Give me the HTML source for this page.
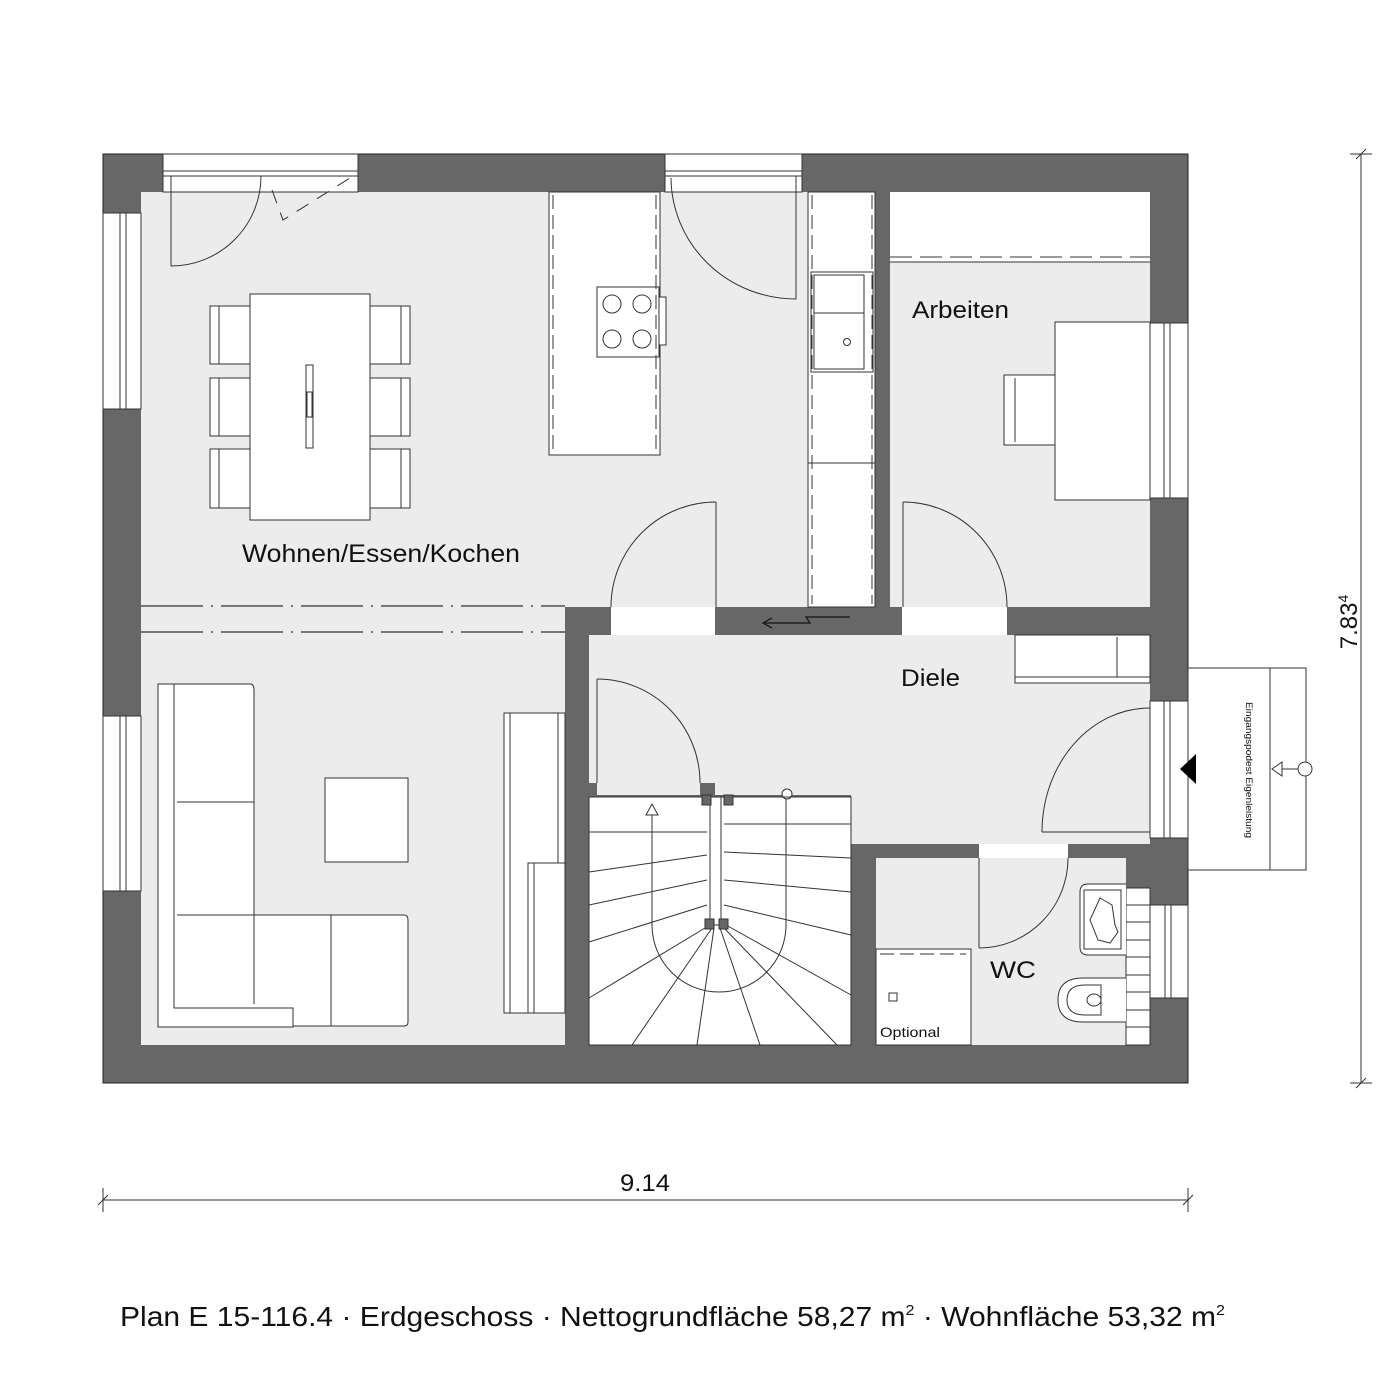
<!DOCTYPE html>
<html><head><meta charset="utf-8"><style>
html,body{margin:0;padding:0;background:#fff;}
svg{display:block;}
text{font-family:"Liberation Sans",Arial,sans-serif;fill:#111;}
</style></head><body>
<svg width="1400" height="1400" viewBox="0 0 1400 1400" xmlns="http://www.w3.org/2000/svg">
<rect x="103" y="154" width="1085" height="929" fill="#676767" stroke="#222" stroke-width="1"/>
<g fill="#ececec">
<rect x="141" y="192" width="424" height="853"/>
<rect x="565" y="192" width="310" height="415"/>
<rect x="890" y="192" width="260" height="415"/>
<rect x="589" y="635" width="561" height="160"/>
<rect x="851" y="635" width="299" height="209"/>
<rect x="876" y="858" width="250" height="187"/>
</g>
<g fill="#676767">
<rect x="565" y="607" width="24" height="438"/>
<rect x="565" y="607" width="46" height="28"/>
<rect x="715" y="607" width="187" height="28"/>
<rect x="1007" y="607" width="143" height="28"/>
<rect x="875" y="192" width="15" height="415"/>
<rect x="851" y="844" width="25" height="201"/>
<rect x="851" y="844" width="128" height="14"/>
<rect x="1068" y="844" width="82" height="14"/>
<rect x="1126" y="858" width="24" height="30"/>
<rect x="589" y="783" width="8" height="14"/>
<rect x="700" y="783" width="15" height="14"/>
</g>
<g fill="#fff" stroke="#333" stroke-width="1">
<rect x="163" y="154" width="195" height="38"/>
<rect x="665" y="154" width="137" height="38"/>
<rect x="103" y="213" width="38" height="196"/>
<rect x="103" y="716" width="38" height="175"/>
<rect x="1150" y="323" width="38" height="175"/>
<rect x="1150" y="701" width="38" height="137"/>
<rect x="1150" y="905" width="38" height="93"/>
</g>
<g fill="#fff">
<rect x="611" y="607" width="104" height="28"/>
<rect x="902" y="607" width="105" height="28"/>
<rect x="979" y="844" width="89" height="14"/>
</g>
<g stroke="#333" stroke-width="1" fill="none">
<line x1="163" y1="171" x2="358" y2="171"/><line x1="163" y1="176" x2="358" y2="176"/>
<line x1="665" y1="171" x2="802" y2="171"/><line x1="665" y1="176" x2="802" y2="176"/>
<line x1="120" y1="213" x2="120" y2="409"/><line x1="126" y1="213" x2="126" y2="409"/>
<line x1="120" y1="716" x2="120" y2="891"/><line x1="126" y1="716" x2="126" y2="891"/>
<line x1="1164" y1="323" x2="1164" y2="498"/><line x1="1170" y1="323" x2="1170" y2="498"/>
<line x1="1164" y1="701" x2="1164" y2="838"/><line x1="1170" y1="701" x2="1170" y2="838"/>
<line x1="1165" y1="905" x2="1165" y2="998"/><line x1="1171" y1="905" x2="1171" y2="998"/>
</g>
<g stroke="#333" stroke-width="1.2" stroke-dasharray="62,8,2,8">
<line x1="141" y1="606" x2="565" y2="606"/>
<line x1="141" y1="632" x2="565" y2="632"/>
</g>
<g stroke="#333" stroke-width="1" fill="none">
<line x1="171" y1="176" x2="171" y2="266"/><path d="M171 266 A90 90 0 0 0 261 176"/>
<path d="M272 190 L283 220 L350 178" stroke-dasharray="14,10"/>
<line x1="796" y1="176" x2="796" y2="299"/><path d="M671 178 A125 122 0 0 0 796 299"/>
<line x1="716" y1="502" x2="716" y2="607"/><path d="M716 502 A105 105 0 0 0 611 607"/>
<line x1="903" y1="502" x2="903" y2="607"/><path d="M903 502 A104 105 0 0 1 1007 607"/>
<line x1="597" y1="679" x2="597" y2="783"/><path d="M597 679 A103 104 0 0 1 700 783"/>
<line x1="979" y1="858" x2="979" y2="948"/><path d="M979 948 A89 90 0 0 0 1068 858"/>
<line x1="1042" y1="832" x2="1150" y2="832"/><path d="M1042 832 A108 124 0 0 1 1150 708"/>
</g>
<g stroke="#111" stroke-width="1.2" fill="none">
<path d="M850 617 L806 617 L810 623 L765 623"/><path d="M772 618 L763 623 L772 628"/>
</g>
<g fill="#fff" stroke="#333" stroke-width="1">
<rect x="210" y="306" width="40" height="58"/><rect x="210" y="378" width="40" height="58"/><rect x="210" y="449" width="40" height="59"/>
<rect x="370" y="306" width="40" height="58"/><rect x="370" y="378" width="40" height="58"/><rect x="370" y="449" width="40" height="59"/>
<rect x="250" y="294" width="120" height="226"/>
<rect x="306" y="365" width="7" height="83"/>
<rect x="307" y="392" width="5" height="25"/>
</g>
<g stroke="#333" fill="none"><line x1="219" y1="306" x2="219" y2="364"/><line x1="219" y1="378" x2="219" y2="436"/><line x1="219" y1="449" x2="219" y2="508"/>
<line x1="401" y1="306" x2="401" y2="364"/><line x1="401" y1="378" x2="401" y2="436"/><line x1="401" y1="449" x2="401" y2="508"/></g>
<g fill="#fff" stroke="#333" stroke-width="1">
<rect x="549" y="192" width="111" height="263"/>
<rect x="597" y="287" width="62" height="70"/>
<rect x="659" y="297" width="7" height="48"/>
<circle cx="612" cy="304" r="9"/><circle cx="642" cy="304" r="9"/><circle cx="612" cy="339" r="9"/><circle cx="642" cy="339" r="9"/>
<rect x="808" y="192" width="67" height="415"/>
<rect x="811" y="272" width="62" height="100"/>
<rect x="814" y="275" width="50" height="94"/>
<line x1="814" y1="313" x2="864" y2="313"/>
<circle cx="847" cy="342" r="3.5"/>
<line x1="808" y1="463" x2="875" y2="463"/>
</g>
<g stroke="#333" stroke-dasharray="14,6" fill="none"><line x1="553" y1="195" x2="553" y2="452"/><line x1="656" y1="195" x2="656" y2="452"/><line x1="812" y1="195" x2="812" y2="604"/><line x1="872" y1="195" x2="872" y2="604"/></g>
<rect x="890" y="192" width="260" height="70" fill="#fff"/>
<line x1="890" y1="262" x2="1150" y2="262" stroke="#333"/>
<line x1="890" y1="257" x2="1150" y2="257" stroke="#333" stroke-dasharray="22,8"/>
<g fill="#fff" stroke="#333"><rect x="1055" y="322" width="95" height="178"/><rect x="1004" y="375" width="51" height="70"/><line x1="1015" y1="378" x2="1015" y2="442"/></g>
<g fill="#fff" stroke="#333" stroke-width="1">
<path d="M158 684 L250 684 Q254 684 254 690 L254 915 L404 915 Q408 915 408 920 L408 1022 Q408 1026 404 1026 L293 1026 L293 1027 L158 1027 Z"/>
<polyline points="174,684 174,1008 293,1008 293,1026" fill="none"/>
<line x1="177" y1="802" x2="254" y2="802"/><line x1="177" y1="915" x2="254" y2="915"/>
<line x1="254" y1="915" x2="254" y2="1004"/><line x1="331" y1="915" x2="331" y2="1026"/>
<rect x="325" y="778" width="83" height="84"/>
<rect x="504" y="713" width="61" height="300"/>
<line x1="510" y1="713" x2="510" y2="1013"/><line x1="558" y1="713" x2="558" y2="863"/>
<rect x="528" y="863" width="37" height="150"/><line x1="534" y1="863" x2="534" y2="1013"/>
</g>
<g fill="#fff" stroke="#333"><rect x="1015" y="635" width="135" height="48"/><line x1="1015" y1="677" x2="1150" y2="677"/><line x1="1117" y1="637" x2="1117" y2="677"/></g>
<rect x="589" y="797" width="262" height="248" fill="#fff" stroke="#333"/>
<g stroke="#333" stroke-width="1" fill="none">
<line x1="589" y1="832" x2="707" y2="832"/>
<line x1="589" y1="872" x2="707" y2="855"/>
<line x1="589" y1="905" x2="707" y2="880"/>
<line x1="589" y1="942" x2="707" y2="905"/>
<line x1="589" y1="998" x2="710" y2="925"/>
<line x1="632" y1="1045" x2="712" y2="928"/>
<line x1="697" y1="1045" x2="714" y2="928"/>
<line x1="760" y1="1045" x2="720" y2="928"/>
<line x1="837" y1="1045" x2="724" y2="928"/>
<line x1="851" y1="995" x2="726" y2="925"/>
<line x1="724" y1="905" x2="851" y2="935"/>
<line x1="724" y1="880" x2="851" y2="892"/>
<line x1="724" y1="852" x2="851" y2="858"/>
<line x1="724" y1="824" x2="851" y2="824"/>
<rect x="710" y="797" width="11" height="128" fill="#fff"/>
<line x1="652" y1="815" x2="652" y2="925"/>
<path d="M652 925 A67 67 0 0 0 786 925 L786 797"/>
<path d="M646 815 L652 804 L658 815 Z" fill="#fff"/>
<circle cx="787" cy="794" r="5" fill="#fff"/>
<line x1="724" y1="797" x2="851" y2="797" stroke-dasharray="20,6"/>
</g>
<g fill="#666" stroke="#333"><rect x="702" y="795" width="9" height="10"/><rect x="724" y="795" width="9" height="10"/><rect x="705" y="919" width="9" height="10"/><rect x="719" y="919" width="9" height="10"/></g>
<rect x="876" y="949" width="95" height="96" fill="#fff" stroke="#333"/>
<line x1="880" y1="954" x2="966" y2="954" stroke="#333" stroke-dasharray="14,6"/>
<rect x="889" y="993" width="8" height="8" fill="#fff" stroke="#333"/>
<text x="880" y="1037" font-size="14" textLength="60" lengthAdjust="spacingAndGlyphs">Optional</text>
<g fill="#fff" stroke="#333">
<rect x="1126" y="888" width="24" height="157"/>
<line x1="1126" y1="905" x2="1150" y2="905"/><line x1="1126" y1="922" x2="1150" y2="922"/><line x1="1126" y1="940" x2="1150" y2="940"/><line x1="1126" y1="957" x2="1150" y2="957"/><line x1="1126" y1="975" x2="1150" y2="975"/><line x1="1126" y1="992" x2="1150" y2="992"/><line x1="1126" y1="1010" x2="1150" y2="1010"/><line x1="1126" y1="1027" x2="1150" y2="1027"/>
<path d="M1126 884 L1088 884 Q1080 884 1080 892 L1080 947 Q1080 955 1088 955 L1126 955"/>
<rect x="1084" y="890" width="37" height="59"/>
<path d="M1100 898 L1112 905 L1115 925 L1118 932 L1110 943 L1098 940 L1090 920 Z" fill="none"/>
<path d="M1126 978 L1083 978 Q1058 978 1058 1000 Q1058 1022 1083 1022 L1126 1022"/>
<path d="M1101 985 L1085 985 Q1067 985 1067 1000 Q1067 1015 1085 1015 L1101 1015 Z"/>
<ellipse cx="1094" cy="1000" rx="7" ry="6"/>
</g>
<g stroke="#333" fill="none" stroke-width="1">
<rect x="1188" y="668" width="118" height="202" fill="#fff"/>
<line x1="1270" y1="668" x2="1270" y2="870"/>
<path d="M1272 769 L1282 762 L1282 776 Z"/><line x1="1282" y1="769" x2="1298" y2="769"/>
<circle cx="1305" cy="769" r="7" fill="#fff"/>
</g>
<path d="M1180 769 L1196 754 L1196 784 Z" fill="#000"/>
<text transform="translate(1246,702) rotate(90)" font-size="9" textLength="136" lengthAdjust="spacingAndGlyphs">Eingangspodest Eigenleistung</text>
<text x="242" y="562" font-size="25" textLength="278" lengthAdjust="spacingAndGlyphs">Wohnen/Essen/Kochen</text>
<text x="912" y="318" font-size="24" textLength="97" lengthAdjust="spacingAndGlyphs">Arbeiten</text>
<text x="901" y="686" font-size="24" textLength="59" lengthAdjust="spacingAndGlyphs">Diele</text>
<text x="990" y="978" font-size="24" textLength="46" lengthAdjust="spacingAndGlyphs">WC</text>
<g stroke="#333" stroke-width="1">
<line x1="103" y1="1200" x2="1188" y2="1200"/>
<line x1="103" y1="1188" x2="103" y2="1212"/><line x1="1188" y1="1188" x2="1188" y2="1212"/>
<line x1="98" y1="1205" x2="108" y2="1195"/><line x1="1183" y1="1205" x2="1193" y2="1195"/>
<line x1="1361" y1="154" x2="1361" y2="1083"/>
<line x1="1350" y1="154" x2="1372" y2="154"/><line x1="1350" y1="1083" x2="1372" y2="1083"/>
<line x1="1356" y1="159" x2="1366" y2="149"/><line x1="1356" y1="1088" x2="1366" y2="1078"/>
</g>
<text x="620" y="1191" font-size="24" textLength="50" lengthAdjust="spacingAndGlyphs">9.14</text>
<text transform="translate(1357,622) rotate(-90)" font-size="24" text-anchor="middle">7.83<tspan font-size="14" dy="-9">4</tspan></text>
<text x="120" y="1326" font-size="28" textLength="1105" lengthAdjust="spacingAndGlyphs">Plan E 15-116.4 · Erdgeschoss · Nettogrundfläche 58,27 m<tspan font-size="15" dy="-11">2</tspan><tspan dy="11"> · Wohnfläche 53,32 m</tspan><tspan font-size="15" dy="-11">2</tspan></text>
</svg>
</body></html>
